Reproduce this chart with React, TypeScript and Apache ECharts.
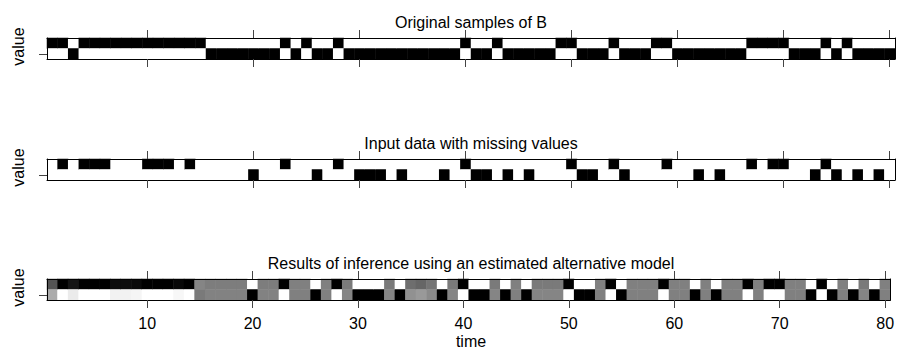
import React, { useEffect, useRef } from "react";
import * as echarts from "echarts";

// time categories 1..80
const times: string[] = Array.from({ length: 80 }, (_, i) => String(i + 1));
// two states of B (bottom row, top row); labels hidden in the reference
const states = ["FALSE", "TRUE"];
const xTickEvery = 10;

const panelTitles = [
  "Original samples of B",
  "Input data with missing values",
  "Results of inference using an estimated alternative model",
];

// 1 = upper state, 0 = lower state
const originalB = [
  1, 1, 0, 1, 1, 1, 1, 1, 1, 1,
  1, 1, 1, 1, 1, 0, 0, 0, 0, 0,
  0, 0, 1, 0, 1, 0, 0, 1, 0, 0,
  0, 0, 0, 0, 0, 0, 0, 0, 0, 1,
  0, 0, 1, 0, 0, 0, 0, 0, 1, 1,
  0, 0, 0, 1, 0, 0, 0, 1, 1, 0,
  0, 0, 0, 0, 0, 0, 1, 1, 1, 1,
  0, 0, 0, 1, 0, 1, 0, 0, 0, 0,
];

// null = missing
const observedB: (number | null)[] = [
  null, 1, null, 1, 1, 1, null, null, null, 1,
  1, 1, null, 1, null, null, null, null, null, 0,
  null, null, 1, null, null, 0, null, 1, null, 0,
  0, 0, null, 0, null, null, null, 0, null, 1,
  0, 0, null, 0, null, 0, null, null, null, 1,
  0, 0, null, 1, 0, null, null, null, 1, null,
  null, 0, null, 0, null, null, 1, null, 1, 1,
  null, null, 0, 1, 0, null, 0, null, 0, null,
];

// posterior probability of the upper state
const inferredB = [
  0.67, 1, 0.92, 1, 1, 1, 0.95, 0.95, 0.96, 1,
  1, 1, 0.97, 1, 0.48, 0.51, 0.51, 0.51, 0.51, 0,
  0.51, 0.51, 1, 0.5, 0.5, 0, 0.5, 1, 0.52, 0,
  0, 0, 0.52, 0, 0.57, 0.6, 0.54, 0, 0.52, 1,
  0, 0, 0.52, 0, 0.5, 0, 0.52, 0.52, 0.52, 1,
  0, 0, 0.5, 1, 0, 0.5, 0.5, 0.5, 1, 0.5,
  0.5, 0, 0.5, 0, 0.5, 0.5, 1, 0.5, 1, 1,
  0.5, 0.5, 0, 1, 0, 0.5, 0, 0.52, 0, 0.5,
];

const FONT = "'Liberation Sans', Arial, Helvetica, sans-serif";
const FS = 16;

function cells(p: (number | null)[]) {
  const out: [number, number, number][] = [];
  p.forEach((v, i) => {
    const top = v == null ? 0 : v;
    const bottom = v == null ? 0 : 1 - v;
    out.push([i, 1, top]);
    out.push([i, 0, bottom]);
  });
  return out;
}

export default function App() {
  const ref = useRef<HTMLDivElement>(null);
  useEffect(() => {
    if (!ref.current) return;
    const chart = echarts.init(ref.current, null, { renderer: "svg" });
    const gridLeft = 47;
    const gridWidth = 848;
    const gridTops = [38, 159, 279];
    const gridH = 21;
    const tickInterval = (idx: number) => (idx + 1) % xTickEvery === 0;

    const grids = gridTops.map((t) => ({
      left: gridLeft,
      top: t,
      width: gridWidth,
      height: gridH,
      containLabel: false,
    }));

    const xAxes: any[] = [];
    const yAxes: any[] = [];
    gridTops.forEach((_, g) => {
      ["bottom", "top"].forEach((pos) => {
        xAxes.push({
          type: "category",
          gridIndex: g,
          position: pos,
          data: times,
          z: 10,
          axisLine: { show: true, onZero: false, lineStyle: { color: "#000", width: 1 } },
          axisTick: {
            show: true,
            alignWithLabel: true,
            interval: tickInterval,
            length: 8,
            lineStyle: { color: "#444" },
          },
          axisLabel: {
            show: g === 2 && pos === "bottom",
            interval: tickInterval,
            fontSize: FS,
            fontFamily: FONT,
            color: "#000",
            margin: 15,
          },
          splitLine: { show: false },
        });
      });
      ["left", "right"].forEach((pos) => {
        yAxes.push({
          type: "category",
          gridIndex: g,
          position: pos,
          data: states,
          z: 10,
          axisLine: { show: true, onZero: false, lineStyle: { color: "#000", width: 1 } },
          axisTick: {
            show: pos === "left",
            alignWithLabel: true,
            length: 8,
            lineStyle: { color: "#444" },
          },
          axisLabel: { show: false },
          splitLine: { show: false },
        });
      });
    });

    const datasets = [originalB, observedB, inferredB];
    const series = datasets.map((d, g) => ({
      type: "heatmap",
      xAxisIndex: g * 2,
      yAxisIndex: g * 2,
      data: cells(d),
      itemStyle: { borderWidth: 0 },
      emphasis: { disabled: true },
      progressive: 0,
    }));

    const graphics: any[] = [];
    gridTops.forEach((t, g) => {
      graphics.push({
        type: "text",
        x: gridLeft + gridWidth / 2,
        y: t - 16,
        style: {
          text: panelTitles[g],
          fontSize: FS,
          fontFamily: FONT,
          fill: "#000",
          textAlign: "center",
          textVerticalAlign: "middle",
        },
      });
      graphics.push({
        type: "text",
        x: 18,
        y: t + gridH / 2 - 2,
        rotation: Math.PI / 2,
        style: {
          text: "value",
          fontSize: FS,
          fontFamily: FONT,
          fill: "#000",
          textAlign: "center",
          textVerticalAlign: "middle",
        },
      });
    });
    graphics.push({
      type: "text",
      x: gridLeft + gridWidth / 2,
      y: 341,
      style: {
        text: "time",
        fontSize: FS,
        fontFamily: FONT,
        fill: "#000",
        textAlign: "center",
        textVerticalAlign: "middle",
      },
    });

    chart.setOption({
      animation: false,
      backgroundColor: "#fff",
      grid: grids,
      xAxis: xAxes,
      yAxis: yAxes,
      visualMap: {
        type: "continuous",
        show: false,
        min: 0,
        max: 1,
        seriesIndex: [0, 1, 2],
        inRange: { color: ["#ffffff", "#000000"] },
      },
      series,
      graphic: graphics,
    });
    return () => chart.dispose();
  }, []);
  return (
    <div
      ref={ref}
      style={{ position: "fixed", left: 0, top: 0, width: 897, height: 349 }}
    />
  );
}
